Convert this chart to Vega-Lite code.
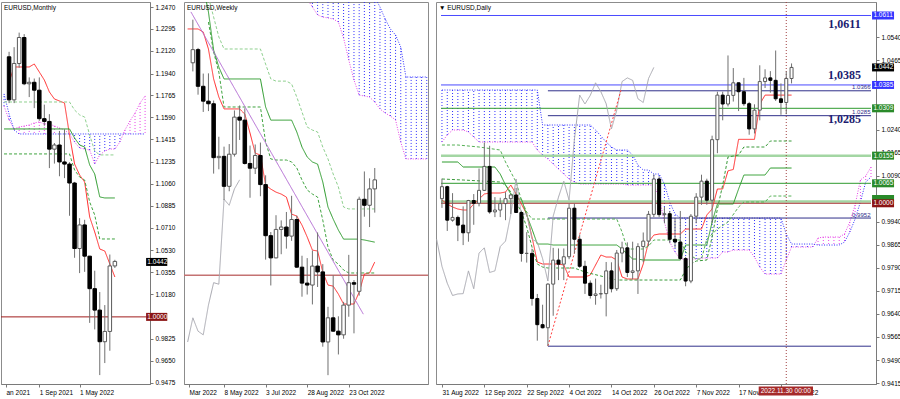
{
"$schema":"https://vega.github.io/schema/vega-lite/v6.json",
"background":"#ffffff",
"padding":{"left":0,"top":1,"right":0,"bottom":0},
"spacing":6,
"config":{
"view":{"stroke":"#8c8c8c","fill":"#ffffff"},
"axis":{"labelFont":"Liberation Sans","labelFontSize":6.5,"labelColor":"#000000","domainColor":"#7a7a7a","tickColor":"#7a7a7a","tickSize":3,"grid":false,"labelPadding":2,"tickCount":40,"labelOverlap":false},
"title":{"font":"Liberation Sans","fontSize":6.5,"fontWeight":"normal","color":"#000000","anchor":"start","frame":"group","offset":-9,"dx":3},
"text":{"font":"Liberation Sans","fontSize":6.5}
},
"datasets":{
"mC":[{"t":0,"o":1.2073,"h":1.2113,"l":1.1704,"c":1.173},{"t":1,"o":1.173,"h":1.215,"l":1.1704,"c":1.202},{"t":2,"o":1.202,"h":1.2266,"l":1.1986,"c":1.2227},{"t":3,"o":1.2227,"h":1.2254,"l":1.1847,"c":1.1858},{"t":4,"o":1.1858,"h":1.1909,"l":1.1752,"c":1.187},{"t":5,"o":1.187,"h":1.19,"l":1.1664,"c":1.1807},{"t":6,"o":1.1807,"h":1.1909,"l":1.1563,"c":1.158},{"t":7,"o":1.158,"h":1.1692,"l":1.1524,"c":1.1558},{"t":8,"o":1.1558,"h":1.1616,"l":1.1186,"c":1.1337},{"t":9,"o":1.1337,"h":1.1386,"l":1.1222,"c":1.137},{"t":10,"o":1.137,"h":1.1482,"l":1.1121,"c":1.1235},{"t":11,"o":1.1235,"h":1.1495,"l":1.1106,"c":1.1218},{"t":12,"o":1.1218,"h":1.1233,"l":1.0806,"c":1.1067},{"t":13,"o":1.1067,"h":1.1076,"l":1.0471,"c":1.0545},{"t":14,"o":1.0545,"h":1.0787,"l":1.0349,"c":1.0733},{"t":15,"o":1.0733,"h":1.0774,"l":1.0359,"c":1.0484},{"t":16,"o":1.0484,"h":1.0486,"l":0.9952,"c":1.0225},{"t":17,"o":1.0225,"h":1.0368,"l":0.99,"c":1.0054},{"t":18,"o":1.0054,"h":1.0198,"l":0.9536,"c":0.9802},{"t":19,"o":0.9802,"h":1.0094,"l":0.9632,"c":0.9884},{"t":20,"o":0.9884,"h":1.0497,"l":0.973,"c":1.0406},{"t":21,"o":1.0406,"h":1.0455,"l":1.039,"c":1.0442}],
"mL":[{"s":"tk","t":0,"v":1.1872},{"s":"tk","t":1,"v":1.1992},{"s":"tk","t":4,"v":1.1992},{"s":"tk","t":5,"v":1.2016},{"s":"tk","t":6,"v":1.1952},{"s":"tk","t":7,"v":1.1888},{"s":"tk","t":8,"v":1.1793},{"s":"tk","t":9,"v":1.1737},{"s":"tk","t":10,"v":1.1721},{"s":"tk","t":11,"v":1.1705},{"s":"tk","t":12,"v":1.145},{"s":"tk","t":13,"v":1.1219},{"s":"tk","t":14,"v":1.1131},{"s":"tk","t":15,"v":1.1075},{"s":"tk","t":16,"v":1.0796},{"s":"tk","t":17,"v":1.0677},{"s":"tk","t":18,"v":1.0541},{"s":"tk","t":19,"v":1.0525},{"s":"tk","t":20,"v":1.0422},{"s":"tk","t":21,"v":1.0318},
{"s":"kj","t":-1,"v":1.1498},{"s":"kj","t":12,"v":1.1498},{"s":"kj","t":13,"v":1.1426},{"s":"kj","t":14,"v":1.137},{"s":"kj","t":15,"v":1.1354},{"s":"kj","t":16,"v":1.1211},{"s":"kj","t":17,"v":1.1139},{"s":"kj","t":18,"v":1.0956},{"s":"kj","t":19,"v":1.0948},{"s":"kj","t":21,"v":1.0948},
{"s":"da","t":-1,"v":1.1713},{"s":"da","t":12,"v":1.1713},{"s":"da","t":13,"v":1.1649},{"s":"da","t":14,"v":1.161},{"s":"da","t":15,"v":1.1593},{"s":"da","t":16,"v":1.145},{"s":"da","t":17,"v":1.1322},{"s":"da","t":18,"v":1.1291},{"s":"da","t":21,"v":1.1291},
{"s":"db","t":-1,"v":1.1299},{"s":"db","t":12,"v":1.1299},{"s":"db","t":13,"v":1.1171},{"s":"db","t":14,"v":1.1115},{"s":"db","t":15,"v":1.1091},{"s":"db","t":16,"v":1.0916},{"s":"db","t":17,"v":1.0812},{"s":"db","t":18,"v":1.0621},{"s":"db","t":21,"v":1.0621}],
"mK":[{"t":-1,"a":1.168,"b":1.1777},{"t":0,"a":1.157,"b":1.1617},{"t":1,"a":1.1498,"b":1.149},{"t":2,"a":1.1514,"b":1.1458},{"t":3,"a":1.1522,"b":1.1458},{"t":4,"a":1.153,"b":1.1458},{"t":5,"a":1.1546,"b":1.1458},{"t":6,"a":1.1554,"b":1.1458},{"t":7,"a":1.1538,"b":1.1458},{"t":8,"a":1.1538,"b":1.1458},{"t":9,"a":1.1522,"b":1.1458},{"t":10,"a":1.1506,"b":1.1458},{"t":11,"a":1.149,"b":1.1458},{"t":12,"a":1.1458,"b":1.1458},{"t":13,"a":1.1394,"b":1.1458},{"t":14,"a":1.1346,"b":1.1458},{"t":15,"a":1.1338,"b":1.1458},{"t":16,"a":1.133,"b":1.1458},{"t":17,"a":1.1219,"b":1.1458},{"t":18,"a":1.1291,"b":1.1458},{"t":19,"a":1.1322,"b":1.1458},{"t":20,"a":1.1338,"b":1.1458},{"t":21,"a":1.1338,"b":1.1458},{"t":22,"a":1.1394,"b":1.1458},{"t":23,"a":1.149,"b":1.1458},{"t":24,"a":1.1562,"b":1.1458},{"t":25,"a":1.1625,"b":1.1458},{"t":26,"a":1.1705,"b":1.1458},{"t":27,"a":1.1761,"b":1.1458}],
"mH":[{"v":1.0}],
"mB":[{"v":1.0438,"label":"1.0442","k":"black"},{"v":1.0,"label":"1.0000","k":"red"}],
"wC":[{"t":0,"o":1.0985,"h":1.1185,"l":1.0945,"c":1.1046},{"t":1,"o":1.1046,"h":1.1054,"l":1.0837,"c":1.0876},{"t":2,"o":1.0876,"h":1.0935,"l":1.0757,"c":1.0807},{"t":3,"o":1.0807,"h":1.0936,"l":1.0761,"c":1.0795},{"t":4,"o":1.0795,"h":1.081,"l":1.0471,"c":1.0545},{"t":5,"o":1.0545,"h":1.0642,"l":1.0491,"c":1.0551},{"t":6,"o":1.0551,"h":1.0596,"l":1.0349,"c":1.0412},{"t":7,"o":1.0412,"h":1.0608,"l":1.0389,"c":1.0561},{"t":8,"o":1.0561,"h":1.0764,"l":1.055,"c":1.0733},{"t":9,"o":1.0733,"h":1.0787,"l":1.0627,"c":1.0719},{"t":10,"o":1.0719,"h":1.0774,"l":1.0513,"c":1.0518},{"t":11,"o":1.0518,"h":1.0601,"l":1.0359,"c":1.0496},{"t":12,"o":1.0496,"h":1.0606,"l":1.0469,"c":1.0555},{"t":13,"o":1.0555,"h":1.0615,"l":1.0366,"c":1.042},{"t":14,"o":1.042,"h":1.0463,"l":1.0072,"c":1.0183},{"t":15,"o":1.0183,"h":1.02,"l":0.9952,"c":1.008},{"t":16,"o":1.008,"h":1.0278,"l":1.0078,"c":1.0212},{"t":17,"o":1.0212,"h":1.0254,"l":1.0097,"c":1.0223},{"t":18,"o":1.0223,"h":1.0293,"l":1.0123,"c":1.0181},{"t":19,"o":1.0181,"h":1.0368,"l":1.0159,"c":1.0258},{"t":20,"o":1.0258,"h":1.0276,"l":1.0033,"c":1.0037},{"t":21,"o":1.0037,"h":1.009,"l":0.99,"c":0.9963},{"t":22,"o":0.9963,"h":1.0079,"l":0.991,"c":0.9954},{"t":23,"o":0.9954,"h":1.0114,"l":0.9864,"c":1.0042},{"t":24,"o":1.0042,"h":1.0198,"l":0.9945,"c":1.0015},{"t":25,"o":1.0015,"h":1.0051,"l":0.9668,"c":0.969},{"t":26,"o":0.969,"h":0.9853,"l":0.9536,"c":0.9802},{"t":27,"o":0.9802,"h":0.9999,"l":0.9737,"c":0.974},{"t":28,"o":0.974,"h":0.9809,"l":0.9632,"c":0.9723},{"t":29,"o":0.9723,"h":0.9876,"l":0.9705,"c":0.9861},{"t":30,"o":0.9861,"h":1.0094,"l":0.9807,"c":0.9965},{"t":31,"o":0.9965,"h":0.9977,"l":0.973,"c":0.9958},{"t":32,"o":0.9925,"h":1.0364,"l":0.9905,"c":1.0352},{"t":33,"o":1.0352,"h":1.0481,"l":1.0271,"c":1.0324},{"t":34,"o":1.0324,"h":1.0449,"l":1.0223,"c":1.04},{"t":35,"o":1.04,"h":1.0497,"l":1.029,"c":1.0442}],
"wL":[{"s":"tk","t":-1,"v":1.1142},{"s":"tk","t":1,"v":1.1142},{"s":"tk","t":2,"v":1.1128},{"s":"tk","t":3,"v":1.1049},{"s":"tk","t":4,"v":1.091},{"s":"tk","t":5,"v":1.0826},{"s":"tk","t":6,"v":1.0771},{"s":"tk","t":9,"v":1.0771},{"s":"tk","t":10,"v":1.0747},{"s":"tk","t":11,"v":1.0659},{"s":"tk","t":12,"v":1.0566},{"s":"tk","t":13,"v":1.0557},{"s":"tk","t":14,"v":1.0418},{"s":"tk","t":15,"v":1.0399},{"s":"tk","t":16,"v":1.0385},{"s":"tk","t":17,"v":1.0376},{"s":"tk","t":18,"v":1.0362},{"s":"tk","t":19,"v":1.0283},{"s":"tk","t":20,"v":1.0274},{"s":"tk","t":21,"v":1.0232},{"s":"tk","t":22,"v":1.0177},{"s":"tk","t":23,"v":1.0116},{"s":"tk","t":24,"v":1.0112},{"s":"tk","t":25,"v":1.0014},{"s":"tk","t":26,"v":0.9954},{"s":"tk","t":27,"v":0.9949},{"s":"tk","t":28,"v":0.9912},{"s":"tk","t":29,"v":0.9866},{"s":"tk","t":31,"v":0.9866},{"s":"tk","t":32,"v":0.9921},{"s":"tk","t":33,"v":1.0005},{"s":"tk","t":34,"v":1.001},{"s":"tk","t":35,"v":1.0061},
{"s":"kj","t":2,"v":1.134},{"s":"kj","t":3,"v":1.1221},{"s":"kj","t":4,"v":1.1044},{"s":"kj","t":5,"v":1.0965},{"s":"kj","t":6,"v":1.091},{"s":"kj","t":13,"v":1.091},{"s":"kj","t":14,"v":1.078},{"s":"kj","t":15,"v":1.0719},{"s":"kj","t":19,"v":1.0719},{"s":"kj","t":20,"v":1.0664},{"s":"kj","t":21,"v":1.0594},{"s":"kj","t":22,"v":1.0548},{"s":"kj","t":23,"v":1.0525},{"s":"kj","t":24,"v":1.0515},{"s":"kj","t":25,"v":1.0432},{"s":"kj","t":26,"v":1.0316},{"s":"kj","t":27,"v":1.026},{"s":"kj","t":28,"v":1.0209},{"s":"kj","t":29,"v":1.0167},{"s":"kj","t":32,"v":1.0167},{"s":"kj","t":33,"v":1.0163},{"s":"kj","t":34,"v":1.0158},{"s":"kj","t":35,"v":1.0153},
{"s":"da","t":3,"v":1.129},{"s":"da","t":4,"v":1.1197},{"s":"da","t":5,"v":1.1105},{"s":"da","t":6,"v":1.1049},{"s":"da","t":13,"v":1.1049},{"s":"da","t":14,"v":1.0979},{"s":"da","t":15,"v":1.091},{"s":"da","t":16,"v":1.09},{"s":"da","t":18,"v":1.09},{"s":"da","t":19,"v":1.0887},{"s":"da","t":20,"v":1.0826},{"s":"da","t":21,"v":1.0757},{"s":"da","t":22,"v":1.0687},{"s":"da","t":23,"v":1.0673},{"s":"da","t":24,"v":1.0664},{"s":"da","t":25,"v":1.0594},{"s":"da","t":26,"v":1.0539},{"s":"da","t":27,"v":1.0469},{"s":"da","t":28,"v":1.0409},{"s":"da","t":29,"v":1.0316},{"s":"da","t":30,"v":1.0307},{"s":"da","t":35,"v":1.0307},
{"s":"db","t":3,"v":1.1174},{"s":"db","t":4,"v":1.1035},{"s":"db","t":5,"v":1.0942},{"s":"db","t":6,"v":1.078},{"s":"db","t":13,"v":1.078},{"s":"db","t":14,"v":1.0617},{"s":"db","t":15,"v":1.0539},{"s":"db","t":16,"v":1.0534},{"s":"db","t":18,"v":1.0534},{"s":"db","t":19,"v":1.0525},{"s":"db","t":20,"v":1.0497},{"s":"db","t":21,"v":1.0441},{"s":"db","t":22,"v":1.0395},{"s":"db","t":23,"v":1.0376},{"s":"db","t":24,"v":1.0362},{"s":"db","t":25,"v":1.0255},{"s":"db","t":26,"v":1.013},{"s":"db","t":27,"v":1.007},{"s":"db","t":28,"v":1.0051},{"s":"db","t":29,"v":1.0024},{"s":"db","t":30,"v":1.001},{"s":"db","t":35,"v":1.001},
{"s":"ck","t":-1,"v":0.969},{"s":"ck","t":0,"v":0.9802},{"s":"ck","t":1,"v":0.974},{"s":"ck","t":2,"v":0.9723},{"s":"ck","t":3,"v":0.9861},{"s":"ck","t":4,"v":0.9965},{"s":"ck","t":5,"v":0.9958},{"s":"ck","t":6,"v":1.0352},{"s":"ck","t":7,"v":1.0324},{"s":"ck","t":8,"v":1.04},{"s":"ck","t":9,"v":1.0442},
{"s":"tr","t":-0.37,"v":1.1221},{"s":"tr","t":32.8,"v":0.9819}],
"wK":[{"t":22,"a":1.1281,"b":1.14},{"t":23,"a":1.1244,"b":1.14},{"t":24,"a":1.1207,"b":1.14},{"t":25,"a":1.1197,"b":1.14},{"t":26,"a":1.1193,"b":1.14},{"t":27,"a":1.1188,"b":1.14},{"t":28,"a":1.1174,"b":1.14},{"t":29,"a":1.11,"b":1.14},{"t":30,"a":1.0998,"b":1.14},{"t":31,"a":1.0905,"b":1.14},{"t":32,"a":1.0835,"b":1.14},{"t":33,"a":1.0831,"b":1.14},{"t":34,"a":1.0826,"b":1.14},{"t":35,"a":1.0803,"b":1.129},{"t":36,"a":1.0771,"b":1.1244},{"t":37,"a":1.0752,"b":1.1188},{"t":38,"a":1.0738,"b":1.1142},{"t":39,"a":1.072,"b":1.1114},{"t":40,"a":1.0617,"b":1.1058},{"t":41,"a":1.0539,"b":1.0919},{"t":42,"a":1.0539,"b":1.0919},{"t":43,"a":1.0539,"b":1.0919},{"t":44,"a":1.0539,"b":1.0919},{"t":45,"a":1.0539,"b":1.0919}],
"wH":[{"v":1.0}],
"dC":[{"t":0,"o":1.0015,"h":1.008,"l":0.9985,"c":1.0054},{"t":1,"o":1.0054,"h":1.0057,"l":0.991,"c":0.9945},{"t":2,"o":0.9945,"h":1.0033,"l":0.994,"c":0.9954},{"t":3,"o":0.9954,"h":0.996,"l":0.9877,"c":0.9929},{"t":4,"o":0.9929,"h":0.999,"l":0.9864,"c":0.9904},{"t":5,"o":0.9904,"h":1.0011,"l":0.9875,"c":1.0009},{"t":6,"o":1.0009,"h":1.003,"l":0.993,"c":1.0},{"t":7,"o":1.0,"h":1.0113,"l":0.999,"c":1.0042},{"t":8,"o":1.0042,"h":1.0198,"l":1.004,"c":1.012},{"t":9,"o":1.012,"h":1.0187,"l":0.9966,"c":0.9972},{"t":10,"o":0.9972,"h":1.002,"l":0.9955,"c":0.9978},{"t":11,"o":0.9978,"h":1.0018,"l":0.9955,"c":0.9999},{"t":12,"o":0.9999,"h":1.0036,"l":0.9945,"c":1.0015},{"t":13,"o":1.0015,"h":1.003,"l":0.9965,"c":1.0027},{"t":14,"o":1.0027,"h":1.005,"l":0.997,"c":0.997},{"t":15,"o":0.997,"h":0.9976,"l":0.981,"c":0.9837},{"t":16,"o":0.9837,"h":0.9906,"l":0.9807,"c":0.9837},{"t":17,"o":0.9837,"h":0.9852,"l":0.9667,"c":0.969},{"t":18,"o":0.969,"h":0.9705,"l":0.9553,"c":0.9605},{"t":19,"o":0.9605,"h":0.967,"l":0.9593,"c":0.9595},{"t":20,"o":0.9595,"h":0.974,"l":0.9536,"c":0.9737},{"t":21,"o":0.9737,"h":0.9855,"l":0.9634,"c":0.9815},{"t":22,"o":0.9815,"h":0.9853,"l":0.975,"c":0.9802},{"t":23,"o":0.9802,"h":0.9853,"l":0.975,"c":0.9826},{"t":24,"o":0.9826,"h":0.9999,"l":0.9818,"c":0.9984},{"t":25,"o":0.9984,"h":0.9999,"l":0.9836,"c":0.9883},{"t":26,"o":0.9883,"h":0.9898,"l":0.979,"c":0.9795},{"t":27,"o":0.9795,"h":0.9813,"l":0.9705,"c":0.974},{"t":28,"o":0.974,"h":0.9749,"l":0.969,"c":0.97},{"t":29,"o":0.97,"h":0.9755,"l":0.967,"c":0.9705},{"t":30,"o":0.9705,"h":0.9735,"l":0.969,"c":0.9706},{"t":31,"o":0.9706,"h":0.9809,"l":0.9632,"c":0.978},{"t":32,"o":0.978,"h":0.9808,"l":0.971,"c":0.9722},{"t":33,"o":0.9722,"h":0.9848,"l":0.9715,"c":0.9838},{"t":34,"o":0.9838,"h":0.9875,"l":0.9808,"c":0.9855},{"t":35,"o":0.9855,"h":0.9873,"l":0.976,"c":0.9775},{"t":36,"o":0.9775,"h":0.9875,"l":0.9753,"c":0.978},{"t":37,"o":0.978,"h":0.987,"l":0.9705,"c":0.9859},{"t":38,"o":0.9859,"h":0.9905,"l":0.9808,"c":0.9877},{"t":39,"o":0.9877,"h":0.9975,"l":0.986,"c":0.9964},{"t":40,"o":0.9964,"h":1.0094,"l":0.9955,"c":1.0079},{"t":41,"o":1.0079,"h":1.0088,"l":0.9955,"c":0.9963},{"t":42,"o":0.9963,"h":0.9988,"l":0.9935,"c":0.9966},{"t":43,"o":0.9966,"h":0.9975,"l":0.987,"c":0.9883},{"t":44,"o":0.9883,"h":0.9953,"l":0.9855,"c":0.9874},{"t":45,"o":0.9874,"h":0.9975,"l":0.9815,"c":0.982},{"t":46,"o":0.982,"h":0.9825,"l":0.973,"c":0.9747},{"t":47,"o":0.9747,"h":0.9965,"l":0.974,"c":0.9958},{"t":48,"o":0.9958,"h":1.0033,"l":0.9935,"c":1.002},{"t":49,"o":1.002,"h":1.0093,"l":0.9995,"c":1.0072},{"t":50,"o":1.0072,"h":1.008,"l":0.9995,"c":1.001},{"t":51,"o":1.001,"h":1.022,"l":0.9935,"c":1.0207},{"t":52,"o":1.0207,"h":1.0363,"l":1.0163,"c":1.0352},{"t":53,"o":1.0352,"h":1.0363,"l":1.027,"c":1.0323},{"t":54,"o":1.0323,"h":1.0481,"l":1.0315,"c":1.0351},{"t":55,"o":1.0351,"h":1.044,"l":1.0331,"c":1.0392},{"t":56,"o":1.0392,"h":1.0393,"l":1.03,"c":1.0363},{"t":57,"o":1.0363,"h":1.0408,"l":1.0317,"c":1.0324},{"t":58,"o":1.0324,"h":1.033,"l":1.0223,"c":1.0242},{"t":59,"o":1.0242,"h":1.0322,"l":1.0227,"c":1.0303},{"t":60,"o":1.0303,"h":1.0449,"l":1.027,"c":1.0396},{"t":61,"o":1.0396,"h":1.0436,"l":1.0375,"c":1.0408},{"t":62,"o":1.0408,"h":1.043,"l":1.036,"c":1.04},{"t":63,"o":1.04,"h":1.0497,"l":1.0333,"c":1.034},{"t":64,"o":1.034,"h":1.039,"l":1.0288,"c":1.0328},{"t":65,"o":1.0328,"h":1.0429,"l":1.029,"c":1.0406},{"t":66,"o":1.0406,"h":1.0455,"l":1.039,"c":1.0442}],
"dL":[{"s":"tk","t":0,"v":1.00106},{"s":"tk","t":1,"v":0.99976},{"s":"tk","t":2,"v":0.99878},{"s":"tk","t":3,"v":0.99813},{"s":"tk","t":4,"v":0.99781},{"s":"tk","t":5,"v":0.99781},{"s":"tk","t":6,"v":0.99976},{"s":"tk","t":7,"v":1.00139},{"s":"tk","t":8,"v":1.00301},{"s":"tk","t":9,"v":1.00334},{"s":"tk","t":11,"v":1.00334},{"s":"tk","t":12,"v":1.00366},{"s":"tk","t":13,"v":1.00594},{"s":"tk","t":14,"v":1.00301},{"s":"tk","t":15,"v":0.99976},{"s":"tk","t":16,"v":0.99651},{"s":"tk","t":17,"v":0.98902},{"s":"tk","t":18,"v":0.98089},{"s":"tk","t":19,"v":0.98024},{"s":"tk","t":22,"v":0.98024},{"s":"tk","t":23,"v":0.97991},{"s":"tk","t":24,"v":0.97601},{"s":"tk","t":27,"v":0.97601},{"s":"tk","t":28,"v":0.97666},{"s":"tk","t":29,"v":0.97991},{"s":"tk","t":30,"v":0.98316},{"s":"tk","t":31,"v":0.98251},{"s":"tk","t":32,"v":0.98251},{"s":"tk","t":33,"v":0.98154},{"s":"tk","t":34,"v":0.97601},{"s":"tk","t":35,"v":0.97536},{"s":"tk","t":37,"v":0.97536},{"s":"tk","t":38,"v":0.98024},{"s":"tk","t":39,"v":0.98739},{"s":"tk","t":40,"v":0.98967},{"s":"tk","t":41,"v":0.99},{"s":"tk","t":45,"v":0.99},{"s":"tk","t":46,"v":0.99162},{"s":"tk","t":49,"v":0.99162},{"s":"tk","t":50,"v":0.99618},{"s":"tk","t":51,"v":0.99813},{"s":"tk","t":52,"v":1.00465},{"s":"tk","t":53,"v":1.00465},{"s":"tk","t":54,"v":1.01055},{"s":"tk","t":55,"v":1.011},{"s":"tk","t":56,"v":1.0208},{"s":"tk","t":59,"v":1.0208},{"s":"tk","t":60,"v":1.0322},{"s":"tk","t":61,"v":1.0352},{"s":"tk","t":66,"v":1.0352},
{"s":"kj","t":0,"v":1.01343},{"s":"kj","t":3,"v":1.01343},{"s":"kj","t":4,"v":1.0118},{"s":"kj","t":10,"v":1.0118},{"s":"kj","t":11,"v":1.00952},{"s":"kj","t":12,"v":1.00594},{"s":"kj","t":13,"v":1.00301},{"s":"kj","t":14,"v":1.00139},{"s":"kj","t":15,"v":1.00139},{"s":"kj","t":16,"v":0.99618},{"s":"kj","t":17,"v":0.99162},{"s":"kj","t":18,"v":0.98674},{"s":"kj","t":20,"v":0.98674},{"s":"kj","t":21,"v":0.98642},{"s":"kj","t":33,"v":0.98642},{"s":"kj","t":34,"v":0.98512},{"s":"kj","t":35,"v":0.98349},{"s":"kj","t":36,"v":0.98186},{"s":"kj","t":37,"v":0.98186},{"s":"kj","t":38,"v":0.98154},{"s":"kj","t":45,"v":0.98154},{"s":"kj","t":46,"v":0.98642},{"s":"kj","t":50,"v":0.98642},{"s":"kj","t":51,"v":0.9939},{"s":"kj","t":52,"v":0.99976},{"s":"kj","t":55,"v":0.99976},{"s":"kj","t":56,"v":1.00464},{"s":"kj","t":57,"v":1.0092},{"s":"kj","t":61,"v":1.0092},{"s":"kj","t":62,"v":1.01147},{"s":"kj","t":66,"v":1.01147},
{"s":"d2","t":0,"v":1.0079},{"s":"d2","t":4,"v":1.00757},{"s":"d2","t":11,"v":1.00692},{"s":"d2","t":12,"v":1.00594},{"s":"d2","t":13,"v":1.00366},{"s":"d2","t":14,"v":1.00041},{"s":"d2","t":15,"v":0.99716},{"s":"d2","t":16,"v":0.99227},{"s":"d2","t":17,"v":0.98577},{"s":"d2","t":18,"v":0.98024},{"s":"d2","t":19,"v":0.97926},{"s":"d2","t":20,"v":0.97894},{"s":"d2","t":25,"v":0.97894},{"s":"d2","t":26,"v":0.97828},{"s":"d2","t":27,"v":0.97763},{"s":"d2","t":30,"v":0.97633},{"s":"d2","t":33,"v":0.97503},{"s":"d2","t":45,"v":0.97503},{"s":"d2","t":46,"v":0.97828},{"s":"d2","t":47,"v":0.98024},{"s":"d2","t":48,"v":0.98121},{"s":"d2","t":50,"v":0.98154},{"s":"d2","t":51,"v":0.98902},{"s":"d2","t":52,"v":0.99813},{"s":"d2","t":53,"v":1.00594},{"s":"d2","t":54,"v":1.01505},{"s":"d2","t":56,"v":1.0157},{"s":"d2","t":57,"v":1.01831},{"s":"d2","t":61,"v":1.01831},{"s":"d2","t":62,"v":1.02026},{"s":"d2","t":66,"v":1.02026},
{"s":"d3","t":0,"v":1.01896},{"s":"d3","t":3,"v":1.01896},{"s":"d3","t":7,"v":1.01831},{"s":"d3","t":11,"v":1.01733},{"s":"d3","t":12,"v":1.01343},{"s":"d3","t":13,"v":1.01017},{"s":"d3","t":14,"v":1.00692},{"s":"d3","t":15,"v":1.00106},{"s":"d3","t":16,"v":0.99716},{"s":"d3","t":17,"v":0.99488},{"s":"d3","t":33,"v":0.99488},{"s":"d3","t":34,"v":0.99065},{"s":"d3","t":35,"v":0.98512},{"s":"d3","t":38,"v":0.98512},{"s":"d3","t":39,"v":0.98609},{"s":"d3","t":40,"v":0.98805},{"s":"d3","t":45,"v":0.98805},{"s":"d3","t":46,"v":0.98414},{"s":"d3","t":48,"v":0.98186},{"s":"d3","t":49,"v":0.98186},{"s":"d3","t":50,"v":0.98837},{"s":"d3","t":52,"v":0.99162},{"s":"d3","t":54,"v":0.9939},{"s":"d3","t":56,"v":0.99878},{"s":"d3","t":57,"v":1.00041},{"s":"d3","t":61,"v":1.00041},{"s":"d3","t":62,"v":1.00236},{"s":"d3","t":66,"v":1.00236},
{"s":"ck","t":-1,"v":0.9883},{"s":"ck","t":0,"v":0.9795},{"s":"ck","t":1,"v":0.974},{"s":"ck","t":2,"v":0.97},{"s":"ck","t":3,"v":0.9705},{"s":"ck","t":4,"v":0.9706},{"s":"ck","t":5,"v":0.978},{"s":"ck","t":6,"v":0.9722},{"s":"ck","t":7,"v":0.9838},{"s":"ck","t":8,"v":0.9855},{"s":"ck","t":9,"v":0.9775},{"s":"ck","t":10,"v":0.978},{"s":"ck","t":11,"v":0.9859},{"s":"ck","t":12,"v":0.9877},{"s":"ck","t":13,"v":0.9964},{"s":"ck","t":14,"v":1.0079},{"s":"ck","t":15,"v":0.9963},{"s":"ck","t":16,"v":0.9966},{"s":"ck","t":17,"v":0.9883},{"s":"ck","t":18,"v":0.9874},{"s":"ck","t":19,"v":0.982},{"s":"ck","t":20,"v":0.9747},{"s":"ck","t":21,"v":0.9958},{"s":"ck","t":22,"v":1.002},{"s":"ck","t":23,"v":1.0072},{"s":"ck","t":24,"v":1.001},{"s":"ck","t":25,"v":1.0207},{"s":"ck","t":26,"v":1.0352},{"s":"ck","t":27,"v":1.0323},{"s":"ck","t":28,"v":1.0351},{"s":"ck","t":29,"v":1.0392},{"s":"ck","t":30,"v":1.0363},{"s":"ck","t":31,"v":1.0324},{"s":"ck","t":32,"v":1.0242},{"s":"ck","t":33,"v":1.0303},{"s":"ck","t":34,"v":1.0396},{"s":"ck","t":35,"v":1.0408},{"s":"ck","t":36,"v":1.04},{"s":"ck","t":37,"v":1.034},{"s":"ck","t":38,"v":1.0328},{"s":"ck","t":39,"v":1.0406},{"s":"ck","t":40,"v":1.0442},
{"s":"rt","t":20,"v":0.9536},{"s":"rt","t":33.8,"v":1.0368}],
"dK":[{"t":0,"a":1.01993,"b":1.03685},{"t":1,"a":1.02221,"b":1.03685},{"t":2,"a":1.02384,"b":1.03685},{"t":3,"a":1.02384,"b":1.03685},{"t":4,"a":1.02384,"b":1.03685},{"t":5,"a":1.02319,"b":1.03685},{"t":6,"a":1.02156,"b":1.03685},{"t":7,"a":1.01993,"b":1.03685},{"t":8,"a":1.01993,"b":1.03685},{"t":9,"a":1.01993,"b":1.03685},{"t":10,"a":1.01993,"b":1.03685},{"t":11,"a":1.01993,"b":1.03685},{"t":12,"a":1.01993,"b":1.03685},{"t":13,"a":1.01993,"b":1.03685},{"t":14,"a":1.01993,"b":1.03685},{"t":15,"a":1.01993,"b":1.03685},{"t":16,"a":1.01993,"b":1.03685},{"t":17,"a":1.01993,"b":1.03685},{"t":18,"a":1.01733,"b":1.03685},{"t":19,"a":1.0157,"b":1.02546},{"t":20,"a":1.0144,"b":1.02546},{"t":21,"a":1.01278,"b":1.02546},{"t":22,"a":1.01115,"b":1.02546},{"t":23,"a":1.00952,"b":1.02546},{"t":24,"a":1.0079,"b":1.02546},{"t":25,"a":1.00692,"b":1.02546},{"t":26,"a":1.00627,"b":1.02546},{"t":27,"a":1.00627,"b":1.02546},{"t":28,"a":1.00627,"b":1.02546},{"t":29,"a":1.00627,"b":1.02384},{"t":30,"a":1.00627,"b":1.02189},{"t":31,"a":1.00627,"b":1.01993},{"t":32,"a":1.00627,"b":1.01831},{"t":33,"a":1.00627,"b":1.01733},{"t":34,"a":1.00627,"b":1.01733},{"t":35,"a":1.00594,"b":1.01733},{"t":36,"a":1.00594,"b":1.0157},{"t":37,"a":1.00594,"b":1.01245},{"t":38,"a":1.00594,"b":1.01082},{"t":39,"a":1.00594,"b":1.01082},{"t":40,"a":1.00594,"b":1.00952},{"t":41,"a":1.00204,"b":1.00952},{"t":42,"a":0.9939,"b":1.00627},{"t":43,"a":0.98739,"b":1.00041},{"t":44,"a":0.98414,"b":0.99651},{"t":45,"a":0.98186,"b":0.9952},{"t":46,"a":0.98186,"b":0.9952},{"t":47,"a":0.98186,"b":0.9952},{"t":48,"a":0.98186,"b":0.9952},{"t":49,"a":0.98219,"b":0.9952},{"t":50,"a":0.98219,"b":0.9952},{"t":51,"a":0.98219,"b":0.9952},{"t":52,"a":0.98219,"b":0.9952},{"t":53,"a":0.98414,"b":0.9952},{"t":54,"a":0.98414,"b":0.9952},{"t":55,"a":0.98479,"b":0.9952},{"t":56,"a":0.98479,"b":0.9952},{"t":57,"a":0.98479,"b":0.9952},{"t":58,"a":0.98479,"b":0.9952},{"t":59,"a":0.98251,"b":0.9952},{"t":60,"a":0.97926,"b":0.9952},{"t":61,"a":0.97698,"b":0.9952},{"t":62,"a":0.97698,"b":0.9952},{"t":63,"a":0.97698,"b":0.9952},{"t":64,"a":0.97698,"b":0.9952},{"t":65,"a":0.98154,"b":0.99},{"t":66,"a":0.98577,"b":0.98674},{"t":67,"a":0.98577,"b":0.98674},{"t":68,"a":0.98577,"b":0.98674},{"t":69,"a":0.98577,"b":0.98674},{"t":70,"a":0.98577,"b":0.98674},{"t":71,"a":0.9887,"b":0.98642},{"t":72,"a":0.98902,"b":0.98642},{"t":73,"a":0.98902,"b":0.98642},{"t":74,"a":0.98902,"b":0.98642},{"t":75,"a":0.98902,"b":0.98642},{"t":76,"a":0.99,"b":0.98739},{"t":77,"a":0.9939,"b":0.99065},{"t":78,"a":0.99943,"b":0.99488},{"t":79,"a":1.00757,"b":1.00041},{"t":80,"a":1.00887,"b":1.00692},{"t":81,"a":1.0118,"b":1.00855}],
"dH":[{"v":1.0611,"from":-0.18,"k":"blue"},{"v":1.0385,"from":-0.18,"k":"blue"},{"v":1.0366,"from":20,"k":"navy"},{"v":1.0309,"from":-0.18,"k":"green"},{"v":1.0285,"from":20,"k":"navy"},{"v":1.0155,"from":-0.18,"k":"lgreen"},{"v":1.0065,"from":-0.18,"k":"green"},{"v":1.0006,"from":-0.18,"k":"lgreen"},{"v":1.0,"from":-0.18,"k":"red"},{"v":0.9952,"from":20,"k":"navy"},{"v":0.9535,"from":20,"k":"navy"}],
"dB":[{"v":1.0611,"label":"1.0611","k":"blue"},{"v":1.0442,"label":"1.0442","k":"black"},{"v":1.0385,"label":"1.0385","k":"blue"},{"v":1.0309,"label":"1.0309","k":"green"},{"v":1.0155,"label":"1.0155","k":"green"},{"v":1.0065,"label":"1.0065","k":"green"},{"v":1.0014,"label":"","k":"green"},{"v":1.0,"label":"1.0000","k":"red"}],
"dA":[{"v":1.05833,"label":"1,0611"},{"v":1.04174,"label":"1,0385"},{"v":1.02742,"label":"1,0285"}],
"dS":[{"v":1.0366,"label":"1.0366"},{"v":1.0285,"label":"1.0285"},{"v":0.9952,"label":"0.9952"}],
"dX":[{"t":65,"v":0.9389,"label":"2022.11.30 00:00"}]
},
"hconcat":[
{
"width":149,"height":382,
"title":{"text":"EURUSD,Monthly"},
"layer":[
{"data":{"name":"mK"},"mark":{"type":"rule","strokeDash":[1,2],"clip":true},"encoding":{"x":{"field":"t","type":"quantitative","title":null,"scale":{"domain":[-0.61,26.98],"nice":false,"zero":false},"axis":{"title":null,"values":[-0.61,6,14],"tickCount":40,"labelExpr":"datum.value < 0 ? 'an 2021' : datum.value < 10 ? '1 Sep 2021' : '1 May 2022'","labelAlign":"left","labelFlush":false,"labelOverlap":false}},"y":{"field":"a","type":"quantitative","title":null,"scale":{"domain":[0.9465,1.251],"nice":false,"zero":false},"axis":{"title":null,"orient":"right","values":[0.9475,0.965,0.9825,1.018,1.0355,1.053,1.071,1.0885,1.106,1.1235,1.1415,1.159,1.1765,1.194,1.212,1.2295,1.247],"tickCount":40,"format":".4f","labelOverlap":false,"minExtent":26,"maxExtent":26}},"y2":{"field":"b"},"color":{"condition":{"test":"datum.b > datum.a","value":"#2e2eff"},"value":"#e845e8"}}},
{"data":{"name":"mK"},"mark":{"type":"line","strokeDash":[1,1.5],"color":"#e845e8","strokeWidth":1,"clip":true},"encoding":{"x":{"field":"t","type":"quantitative","title":null},"y":{"field":"a","type":"quantitative","title":null}}},
{"data":{"name":"mK"},"mark":{"type":"line","strokeDash":[1,1.5],"color":"#2e2eff","strokeWidth":1,"clip":true},"encoding":{"x":{"field":"t","type":"quantitative","title":null},"y":{"field":"b","type":"quantitative","title":null}}},
{"data":{"name":"mH"},"mark":{"type":"rule","color":"#a01c1c","clip":true},"encoding":{"y":{"field":"v","type":"quantitative","title":null}}},
{"data":{"name":"mL"},"mark":{"type":"line","strokeWidth":1,"clip":true},"encoding":{"x":{"field":"t","type":"quantitative","title":null},"y":{"field":"v","type":"quantitative","title":null},"color":{"field":"s","type":"nominal","legend":null,"scale":{"domain":["tk","kj","da","db","ck","tr","rt","d2","d3"],"range":["#ff2a2a","#2a9a2a","#8fd08f","#3fa33f","#a8a8b0","#b46cd4","#ff3c3c","#3a9a3a","#55b055"]}},"strokeDash":{"field":"s","type":"nominal","legend":null,"scale":{"domain":["tk","kj","da","db","ck","tr","rt","d2","d3"],"range":[[1,0],[1,0],[3,2],[3,2],[1,0],[1,0],[2,2],[3,2],[3,2]]}}}},
{"data":{"name":"mC"},"mark":{"type":"rule","color":"#707070","clip":true},"encoding":{"x":{"field":"t","type":"quantitative","title":null},"y":{"field":"l","type":"quantitative","title":null},"y2":{"field":"h"}}},
{"data":{"name":"mC"},"mark":{"type":"bar","size":3.5,"strokeWidth":1,"orient":"vertical","clip":true},"encoding":{"x":{"field":"t","type":"quantitative","title":null},"y":{"field":"o","type":"quantitative","title":null},"y2":{"field":"c"},"fill":{"condition":{"test":"datum.c >= datum.o","value":"#ffffff"},"value":"#000000"},"stroke":{"condition":{"test":"datum.c >= datum.o","value":"#5a5a5a"},"value":"#000000"}}},
{"data":{"name":"mB"},"mark":{"type":"rule","strokeWidth":8},"encoding":{"x":{"datum":27.2},"x2":{"datum":31.4},"y":{"field":"v","type":"quantitative","title":null},"color":{"condition":{"test":"datum.k == 'red'","value":"#8b1414"},"value":"#000000"}}},
{"data":{"name":"mB"},"mark":{"type":"text","align":"left","baseline":"middle","color":"#ffffff"},"encoding":{"x":{"datum":27.45},"y":{"field":"v","type":"quantitative","title":null},"text":{"field":"label"}}}
]
},
{
"width":244,"height":382,
"title":{"text":"EURUSD,Weekly"},
"layer":[
{"data":{"name":"wK"},"mark":{"type":"rule","strokeDash":[1,2],"clip":true},"encoding":{"x":{"field":"t","type":"quantitative","title":null,"scale":{"domain":[-0.74,44.28],"nice":false,"zero":false},"axis":{"title":null,"values":[-0.74,6,14,22,30],"tickCount":40,"labelExpr":"datum.value < 0 ? 'Mar 2022' : datum.value < 10 ? '8 May 2022' : datum.value < 18 ? '3 Jul 2022' : datum.value < 26 ? '28 Aug 2022' : '23 Oct 2022'","labelAlign":"left","labelFlush":false,"labelOverlap":false}},"y":{"field":"a","type":"quantitative","title":null,"scale":{"domain":[0.9495,1.1267],"nice":false,"zero":false},"axis":{"title":null,"orient":"right","labels":false,"ticks":false,"domain":false,"minExtent":0,"maxExtent":0}},"y2":{"field":"b"},"color":{"condition":{"test":"datum.b > datum.a","value":"#2e2eff"},"value":"#e845e8"}}},
{"data":{"name":"wK"},"mark":{"type":"line","strokeDash":[1,1.5],"color":"#e845e8","strokeWidth":1,"clip":true},"encoding":{"x":{"field":"t","type":"quantitative","title":null},"y":{"field":"a","type":"quantitative","title":null}}},
{"data":{"name":"wK"},"mark":{"type":"line","strokeDash":[1,1.5],"color":"#2e2eff","strokeWidth":1,"clip":true},"encoding":{"x":{"field":"t","type":"quantitative","title":null},"y":{"field":"b","type":"quantitative","title":null}}},
{"data":{"name":"wH"},"mark":{"type":"rule","color":"#c47272","strokeWidth":1.5,"clip":true},"encoding":{"y":{"field":"v","type":"quantitative","title":null}}},
{"data":{"name":"wL"},"mark":{"type":"line","strokeWidth":1,"clip":true},"encoding":{"x":{"field":"t","type":"quantitative","title":null},"y":{"field":"v","type":"quantitative","title":null},"color":{"field":"s","type":"nominal","legend":null,"scale":{"domain":["tk","kj","da","db","ck","tr","rt","d2","d3"],"range":["#ff2a2a","#2a9a2a","#8fd08f","#3fa33f","#a8a8b0","#b46cd4","#ff3c3c","#3a9a3a","#55b055"]}},"strokeDash":{"field":"s","type":"nominal","legend":null,"scale":{"domain":["tk","kj","da","db","ck","tr","rt","d2","d3"],"range":[[1,0],[1,0],[3,2],[3,2],[1,0],[1,0],[2,2],[3,2],[3,2]]}}}},
{"data":{"name":"wC"},"mark":{"type":"rule","color":"#707070","clip":true},"encoding":{"x":{"field":"t","type":"quantitative","title":null},"y":{"field":"l","type":"quantitative","title":null},"y2":{"field":"h"}}},
{"data":{"name":"wC"},"mark":{"type":"bar","size":3.5,"strokeWidth":1,"orient":"vertical","clip":true},"encoding":{"x":{"field":"t","type":"quantitative","title":null},"y":{"field":"o","type":"quantitative","title":null},"y2":{"field":"c"},"fill":{"condition":{"test":"datum.c >= datum.o","value":"#ffffff"},"value":"#000000"},"stroke":{"condition":{"test":"datum.c >= datum.o","value":"#5a5a5a"},"value":"#000000"}}}
]
},
{
"width":440,"height":382,
"title":{"text":"▼ EURUSD,Daily"},
"layer":[
{"data":{"name":"dK"},"mark":{"type":"rule","strokeDash":[1,2],"clip":true},"encoding":{"x":{"field":"t","type":"quantitative","title":null,"scale":{"domain":[-0.18,81.0],"nice":false,"zero":false},"axis":{"title":null,"values":[0,8,16,24,32,40,48,56,64],"tickCount":40,"labelExpr":"['31 Aug 2022','12 Sep 2022','22 Sep 2022','4 Oct 2022','14 Oct 2022','26 Oct 2022','7 Nov 2022','17 Nov 2022','29 Nov 2022'][round(datum.value/8)]","labelAlign":"left","labelFlush":false,"labelOverlap":false}},"y":{"field":"a","type":"quantitative","title":null,"scale":{"domain":[0.9412,1.06549],"nice":false,"zero":false},"axis":{"title":null,"orient":"right","values":[0.9415,0.949,0.9565,0.964,0.9715,0.979,0.9865,0.994,1.009,1.0165,1.024,1.0465,1.054],"tickCount":40,"format":".4f","labelOverlap":false,"minExtent":26,"maxExtent":26}},"y2":{"field":"b"},"color":{"condition":{"test":"datum.b > datum.a","value":"#2e2eff"},"value":"#e845e8"}}},
{"data":{"name":"dK"},"mark":{"type":"line","strokeDash":[1,1.5],"color":"#e845e8","strokeWidth":1,"clip":true},"encoding":{"x":{"field":"t","type":"quantitative","title":null},"y":{"field":"a","type":"quantitative","title":null}}},
{"data":{"name":"dK"},"mark":{"type":"line","strokeDash":[1,1.5],"color":"#2e2eff","strokeWidth":1,"clip":true},"encoding":{"x":{"field":"t","type":"quantitative","title":null},"y":{"field":"b","type":"quantitative","title":null}}},
{"data":{"name":"dH"},"mark":{"type":"rule","clip":true},"encoding":{"x":{"field":"from","type":"quantitative","title":null},"x2":{"datum":81.0},"y":{"field":"v","type":"quantitative","title":null},"color":{"condition":[{"test":"datum.k == 'blue'","value":"#4a4aff"},{"test":"datum.k == 'navy'","value":"#30308a"},{"test":"datum.k == 'green'","value":"#2f9a2f"},{"test":"datum.k == 'lgreen'","value":"#a3d6a3"}],"value":"#a83232"},"strokeWidth":{"condition":{"test":"datum.k == 'lgreen'","value":2.5},"value":1}}},
{"data":{"name":"dX"},"mark":{"type":"rule","color":"#a04040","strokeDash":[1,2],"clip":true},"encoding":{"x":{"field":"t","type":"quantitative","title":null}}},
{"data":{"name":"dL"},"mark":{"type":"line","strokeWidth":1,"clip":true},"encoding":{"x":{"field":"t","type":"quantitative","title":null},"y":{"field":"v","type":"quantitative","title":null},"color":{"field":"s","type":"nominal","legend":null,"scale":{"domain":["tk","kj","da","db","ck","tr","rt","d2","d3"],"range":["#ff2a2a","#2a9a2a","#8fd08f","#3fa33f","#a8a8b0","#b46cd4","#ff3c3c","#3a9a3a","#55b055"]}},"strokeDash":{"field":"s","type":"nominal","legend":null,"scale":{"domain":["tk","kj","da","db","ck","tr","rt","d2","d3"],"range":[[1,0],[1,0],[3,2],[3,2],[1,0],[1,0],[2,2],[3,2],[3,2]]}}}},
{"data":{"name":"dC"},"mark":{"type":"rule","color":"#707070","clip":true},"encoding":{"x":{"field":"t","type":"quantitative","title":null},"y":{"field":"l","type":"quantitative","title":null},"y2":{"field":"h"}}},
{"data":{"name":"dC"},"mark":{"type":"bar","size":3,"strokeWidth":1,"orient":"vertical","clip":true},"encoding":{"x":{"field":"t","type":"quantitative","title":null},"y":{"field":"o","type":"quantitative","title":null},"y2":{"field":"c"},"fill":{"condition":{"test":"datum.c >= datum.o","value":"#ffffff"},"value":"#000000"},"stroke":{"condition":{"test":"datum.c >= datum.o","value":"#5a5a5a"},"value":"#000000"}}},
{"data":{"name":"dA"},"mark":{"type":"text","font":"Liberation Serif","fontSize":12,"fontWeight":"bold","color":"#1c1c70","align":"center","baseline":"middle"},"encoding":{"x":{"datum":76},"y":{"field":"v","type":"quantitative","title":null},"text":{"field":"label"}}},
{"data":{"name":"dS"},"mark":{"type":"text","fontSize":6,"color":"#30308a","align":"right","baseline":"bottom","dy":-0.5},"encoding":{"x":{"datum":80.9},"y":{"field":"v","type":"quantitative","title":null},"text":{"field":"label"}}},
{"data":{"name":"dB"},"mark":{"type":"rule","strokeWidth":8},"encoding":{"x":{"datum":81.2},"x2":{"datum":85.35},"y":{"field":"v","type":"quantitative","title":null},"color":{"condition":[{"test":"datum.k == 'blue'","value":"#3535ff"},{"test":"datum.k == 'green'","value":"#2a8a2a"},{"test":"datum.k == 'red'","value":"#8b1414"}],"value":"#000000"}}},
{"data":{"name":"dB"},"mark":{"type":"text","align":"left","baseline":"middle","color":"#ffffff"},"encoding":{"x":{"datum":81.45},"y":{"field":"v","type":"quantitative","title":null},"text":{"field":"label"}}},
{"data":{"name":"dX"},"mark":{"type":"rule","strokeWidth":9,"color":"#a52a2a"},"encoding":{"x":{"datum":59.8},"x2":{"datum":70.05},"y":{"field":"v","type":"quantitative","title":null}}},
{"data":{"name":"dX"},"mark":{"type":"text","align":"center","baseline":"middle","color":"#ffffff"},"encoding":{"x":{"datum":64.9},"y":{"field":"v","type":"quantitative","title":null},"text":{"field":"label"}}}
]
}
]
}
